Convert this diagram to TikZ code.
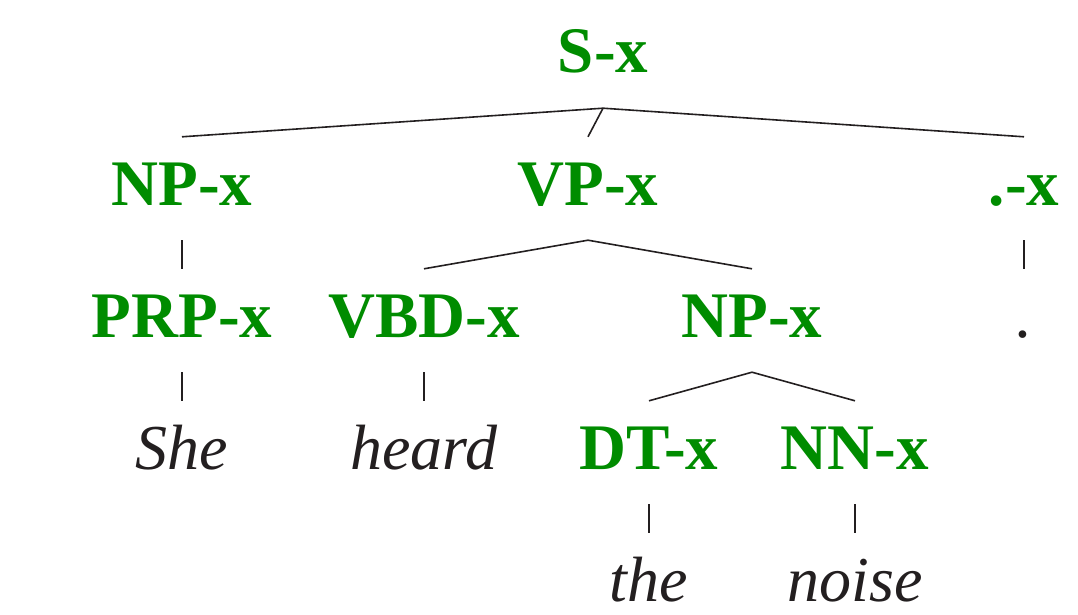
\documentclass[tikz,border=0pt]{standalone}
\usepackage{fontspec}
\setmainfont{Liberation Serif}
\definecolor{lblgreen}{RGB}{0,140,0}
\definecolor{ink}{RGB}{35,31,32}
\tikzset{
  x=1pt, y=-1pt,
  cat/.style={font=\fontsize{65}{65}\selectfont\bfseries, text=lblgreen, anchor=base, inner sep=0pt, text height=68pt, text depth=35pt},
  word/.style={font=\fontsize{64}{64}\selectfont\itshape, text=ink, anchor=base, inner sep=0pt, text height=68pt, text depth=35pt},
  edge/.style={draw=ink, line width=1.6pt}
}
\begin{document}
\begin{tikzpicture}
\useasboundingbox (0,0) rectangle (1078,615);
% row 1
\node[cat] (S) at (603,73) {S-x};
% row 2
\node[cat] (NP) at (182,205) {NP-x};
\node[cat] (VP) at (588,205) {VP-x};
\node[cat] (PD) at (1024,205) {.-x};
% row 3
\node[cat] (PRP) at (182,337) {PRP-x};
\node[cat] (VBD) at (424,337) {VBD-x};
\node[cat] (NP2) at (752,337) {NP-x};
\node[word] (dot) at (1024,337) {.};
% row 4
\node[word] (she) at (182,469) {She};
\node[word] (heard) at (424,469) {heard};
\node[cat] (DT) at (649,469) {DT-x};
\node[cat] (NN) at (855,469) {NN-x};
% row 5
\node[word] (the) at (649,601) {the};
\node[word] (noise) at (855,601) {noise};
% edges
\draw[edge] (S.south) -- (NP.north);
\draw[edge] (S.south) -- (VP.north);
\draw[edge] (S.south) -- (PD.north);
\draw[edge] (NP.south) -- (PRP.north);
\draw[edge] (VP.south) -- (VBD.north);
\draw[edge] (VP.south) -- (NP2.north);
\draw[edge] (PD.south) -- (dot.north);
\draw[edge] (PRP.south) -- (she.north);
\draw[edge] (VBD.south) -- (heard.north);
\draw[edge] (NP2.south) -- (DT.north);
\draw[edge] (NP2.south) -- (NN.north);
\draw[edge] (DT.south) -- (the.north);
\draw[edge] (NN.south) -- (noise.north);
\end{tikzpicture}
\end{document}
